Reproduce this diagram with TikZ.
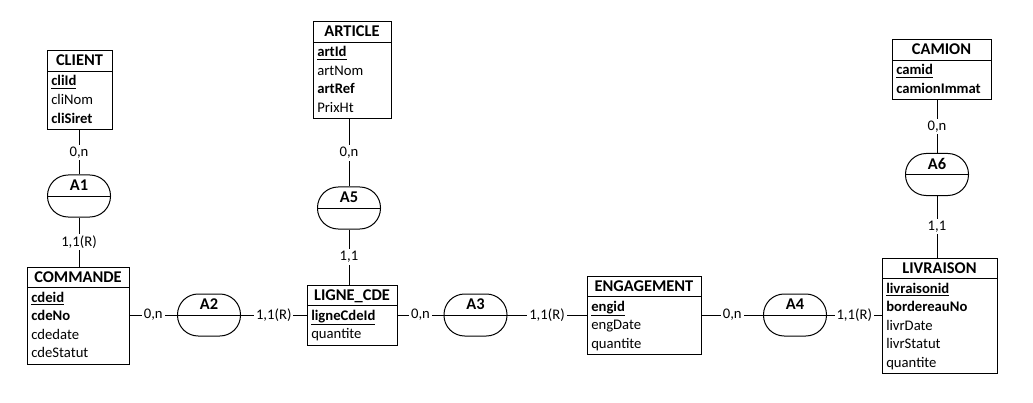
\documentclass[tikz,border=0pt]{standalone}
\usepackage{fontspec}
\setmainfont{Carlito}
\usetikzlibrary{fit}
\newcommand\myfont{\fontsize{11pt}{13pt}\selectfont}
\newcommand\mybig{\fontsize{12.3pt}{14pt}\selectfont}
\tikzset{
  lnk/.style={line width=0.75pt},
  ent/.style={draw, line width=0.75pt, inner sep=0pt},
  ttl/.style={font=\mybig\bfseries, inner sep=0pt, anchor=base},
  att/.style={font=\myfont, inner sep=0pt, anchor=base west},
  rel/.style={draw, line width=0.75pt, rounded corners=15.5pt, minimum width=47.25pt, minimum height=31.5pt, inner sep=0pt},
  rlab/.style={font=\mybig\bfseries, inner sep=0pt, anchor=base},
  card/.style={font=\myfont, fill=white, inner sep=1.5pt}
}
\begin{document}
\begin{tikzpicture}[x=0.75pt, y=-0.75pt]
\useasboundingbox (0,0) rectangle (1033,403);

% ---------- CLIENT ----------
\node[ent, fit={(47,51) (112,129.5)}] (client) {};
\draw[lnk] (47,71.5) -- (112,71.5);
\node[ttl] (clientT) at (79.5,66) {CLIENT};
\node[att] (client1) at (51,86) {\underline{\textbf{cliId}}};
\node[att] (client2) at (51,104.5) {cliNom};
\node[att] (client3) at (51,123) {\textbf{cliSiret}};

% ---------- ARTICLE ----------
\node[ent, fit={(313,22) (391,119)}] (article) {};
\draw[lnk] (313,42.5) -- (391,42.5);
\node[ttl] (articleT) at (352,37) {ARTICLE};
\node[att] (article1) at (317,57) {\underline{\textbf{artId}}};
\node[att] (article2) at (317,75.5) {artNom};
\node[att] (article3) at (317,94) {\textbf{artRef}};
\node[att] (article4) at (317,112.5) {PrixHt};

% ---------- CAMION ----------
\node[ent, fit={(892,40) (991,100)}] (camion) {};
\draw[lnk] (892,60.5) -- (991,60.5);
\node[ttl] (camionT) at (941.5,55) {CAMION};
\node[att] (camion1) at (896,75) {\underline{\textbf{camid}}};
\node[att] (camion2) at (896,93.5) {\textbf{camionImmat}};

% ---------- COMMANDE ----------
\node[ent, fit={(27,267) (129,364)}] (commande) {};
\draw[lnk] (27,287.5) -- (129,287.5);
\node[ttl] (commandeT) at (78,282) {COMMANDE};
\node[att] (commande1) at (31,302) {\underline{\textbf{cdeid}}};
\node[att] (commande2) at (31,320.5) {\textbf{cdeNo}};
\node[att] (commande3) at (31,339) {cdedate};
\node[att] (commande4) at (31,357.5) {cdeStatut};

% ---------- LIGNE_CDE ----------
\node[ent, fit={(307,285) (397,345)}] (ligne) {};
\draw[lnk] (307,305.5) -- (397,305.5);
\node[ttl] (ligneT) at (352,300) {LIGNE\_CDE};
\node[att] (ligne1) at (311,320) {\underline{\textbf{ligneCdeId}}};
\node[att] (ligne2) at (311,338.5) {quantite};

% ---------- ENGAGEMENT ----------
\node[ent, fit={(587,276) (701,354.5)}] (engagement) {};
\draw[lnk] (587,296.5) -- (701,296.5);
\node[ttl] (engagementT) at (644,291) {ENGAGEMENT};
\node[att] (engagement1) at (591,311) {\underline{\textbf{engid}}};
\node[att] (engagement2) at (591,329.5) {engDate};
\node[att] (engagement3) at (591,348) {quantite};

% ---------- LIVRAISON ----------
\node[ent, fit={(882,258) (997,373.5)}] (livraison) {};
\draw[lnk] (882,278.5) -- (997,278.5);
\node[ttl] (livraisonT) at (939.5,273) {LIVRAISON};
\node[att] (livraison1) at (886,293) {\underline{\textbf{livraisonid}}};
\node[att] (livraison2) at (886,311.5) {\textbf{bordereauNo}};
\node[att] (livraison3) at (886,330) {livrDate};
\node[att] (livraison4) at (886,348.5) {livrStatut};
\node[att] (livraison5) at (886,367) {quantite};

% ---------- associations ----------
\node[rel] (a1) at (79,196) {};
\node[rel] (a5) at (349,208) {};
\node[rel] (a6) at (937,174.5) {};
\node[rel] (a2) at (209,315) {};
\node[rel] (a3) at (475.5,315) {};
\node[rel] (a4) at (795,315) {};
\foreach \r/\t in {a1/A1,a2/A2,a3/A3,a4/A4,a5/A5,a6/A6}{
  \draw[lnk] (\r.west) -- (\r.east);
  \node[rlab] at ([yshift=4pt]\r.center) {\t};
}

% ---------- connectors ----------
\draw[lnk] (a1.north |- client.south) -- node[card] {0,n} (a1.north);
\draw[lnk] (a1.south) -- node[card] {1,1(R)} (a1.south |- commande.north);
\draw[lnk] (a5.north |- article.south) -- node[card] {0,n} (a5.north);
\draw[lnk] (a5.south) -- node[card] {1,1} (a5.south |- ligne.north);
\draw[lnk] (a6.north |- camion.south) -- node[card] {0,n} (a6.north);
\draw[lnk] (a6.south) -- node[card] {1,1} (a6.south |- livraison.north);
\draw[lnk] (a2.west -| commande.east) -- node[card] {0,n} (a2.west);
\draw[lnk] (a2.east) -- node[card] {1,1(R)} (a2.east -| ligne.west);
\draw[lnk] (a3.west -| ligne.east) -- node[card] {0,n} (a3.west);
\draw[lnk] (a3.east) -- node[card] {1,1(R)} (a3.east -| engagement.west);
\draw[lnk] (a4.west -| engagement.east) -- node[card] {0,n} (a4.west);
\draw[lnk] (a4.east) -- node[card] {1,1(R)} (a4.east -| livraison.west);
\end{tikzpicture}
\end{document}
